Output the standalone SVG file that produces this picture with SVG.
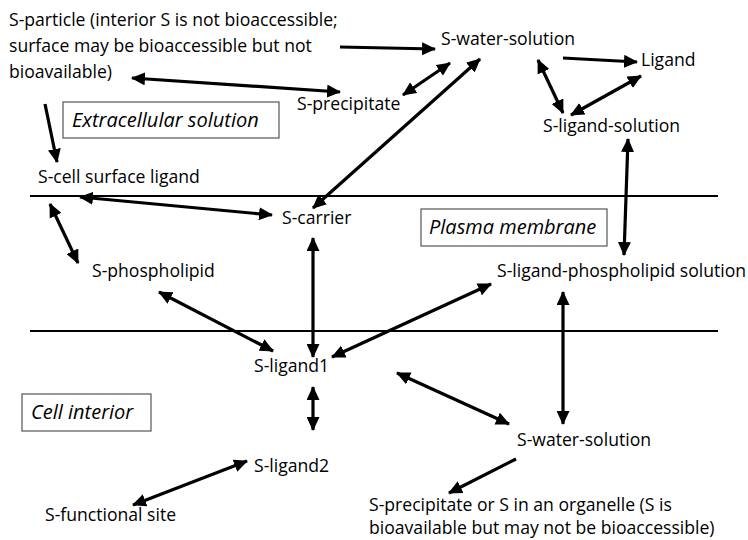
<svg xmlns="http://www.w3.org/2000/svg" width="748" height="540" viewBox="0 0 748 540">
<style>
text{font-family:"Open Sans","Liberation Sans",sans-serif;font-size:17.6px;fill:#000}
.it{font-style:italic;font-size:20px}
.box{fill:#fff;stroke:#555;stroke-width:1.2}
.mem{stroke:#000;stroke-width:2}
.c line{stroke:#000;stroke-width:3.2}
.d{marker-start:url(#ah);marker-end:url(#ah)}
.s{marker-end:url(#ah)}
</style>
<defs>
<marker id="ah" markerUnits="userSpaceOnUse" markerWidth="15" markerHeight="13" refX="13" refY="6.5" orient="auto-start-reverse" viewBox="0 0 15 13">
<path d="M0,0 L14,6.5 L0,13 Z" fill="#000"/>
</marker>
</defs>
<rect width="748" height="540" fill="#fff"/>
<g id="membranes">
<line class="mem" x1="30" y1="196" x2="718" y2="196"/>
<line class="mem" x1="30" y1="331" x2="718" y2="331"/>
</g>
<g id="region-extracellular"><rect class="box" x="63" y="102" width="216" height="36"/><text class="it" x="72" y="127">Extracellular solution</text></g>
<g id="region-membrane"><rect class="box" x="421" y="209" width="186" height="37"/><text class="it" x="429" y="234">Plasma membrane</text></g>
<g id="region-interior"><rect class="box" x="22" y="394" width="129" height="37"/><text class="it" x="31" y="419">Cell interior</text></g>
<g id="n-particle"><text x="9" y="26">S-particle (interior S is not bioaccessible;</text><text x="9" y="52">surface may be bioaccessible but not</text><text x="9" y="78">bioavailable)</text></g>
<g id="n-water-top"><text x="441" y="45">S-water-solution</text></g>
<g id="n-ligand"><text x="641" y="66">Ligand</text></g>
<g id="n-precipitate"><text x="297" y="110">S-precipitate</text></g>
<g id="n-ligand-solution"><text x="543" y="132">S-ligand-solution</text></g>
<g id="n-cell-surface"><text x="38" y="183">S-cell surface ligand</text></g>
<g id="n-carrier"><text x="282" y="224">S-carrier</text></g>
<g id="n-phospholipid"><text x="92" y="277">S-phospholipid</text></g>
<g id="n-ligand-phospholipid"><text x="497" y="277">S-ligand-phospholipid solution</text></g>
<g id="n-ligand1"><text x="254" y="372">S-ligand1</text></g>
<g id="n-water-bottom"><text x="517" y="446">S-water-solution</text></g>
<g id="n-ligand2"><text x="254" y="472">S-ligand2</text></g>
<g id="n-functional"><text x="45" y="521">S-functional site</text></g>
<g id="n-organelle"><text x="369" y="511">S-precipitate or S in an organelle (S is</text><text x="369" y="534">bioavailable but may not be bioaccessible)</text></g>
<g id="connectors" class="c">
<line class="s" x1="340" y1="47" x2="435" y2="49"/>
<line class="s" x1="563" y1="58" x2="637" y2="62"/>
<line class="d" x1="538" y1="60" x2="563" y2="113"/>
<line class="d" x1="641" y1="76" x2="571" y2="115"/>
<line class="d" x1="403" y1="95" x2="450" y2="63"/>
<line class="d" x1="132" y1="78" x2="340" y2="92"/>
<line class="d" x1="313" y1="208" x2="480" y2="59"/>
<line class="s" x1="45" y1="104" x2="57" y2="162"/>
<line class="d" x1="80" y1="197" x2="272" y2="215"/>
<line class="d" x1="50" y1="204" x2="78" y2="263"/>
<line class="d" x1="313" y1="238" x2="313" y2="357"/>
<line class="d" x1="159" y1="292" x2="273" y2="351"/>
<line class="d" x1="332" y1="357" x2="491" y2="284"/>
<line class="d" x1="628" y1="139" x2="624" y2="255"/>
<line class="d" x1="563" y1="292" x2="563" y2="424"/>
<line class="d" x1="397" y1="373" x2="509" y2="424"/>
<line class="s" x1="516" y1="459" x2="449" y2="493"/>
<line class="d" x1="313" y1="387" x2="313" y2="430"/>
<line class="d" x1="247" y1="461" x2="133" y2="505"/>
</g>
</svg>
